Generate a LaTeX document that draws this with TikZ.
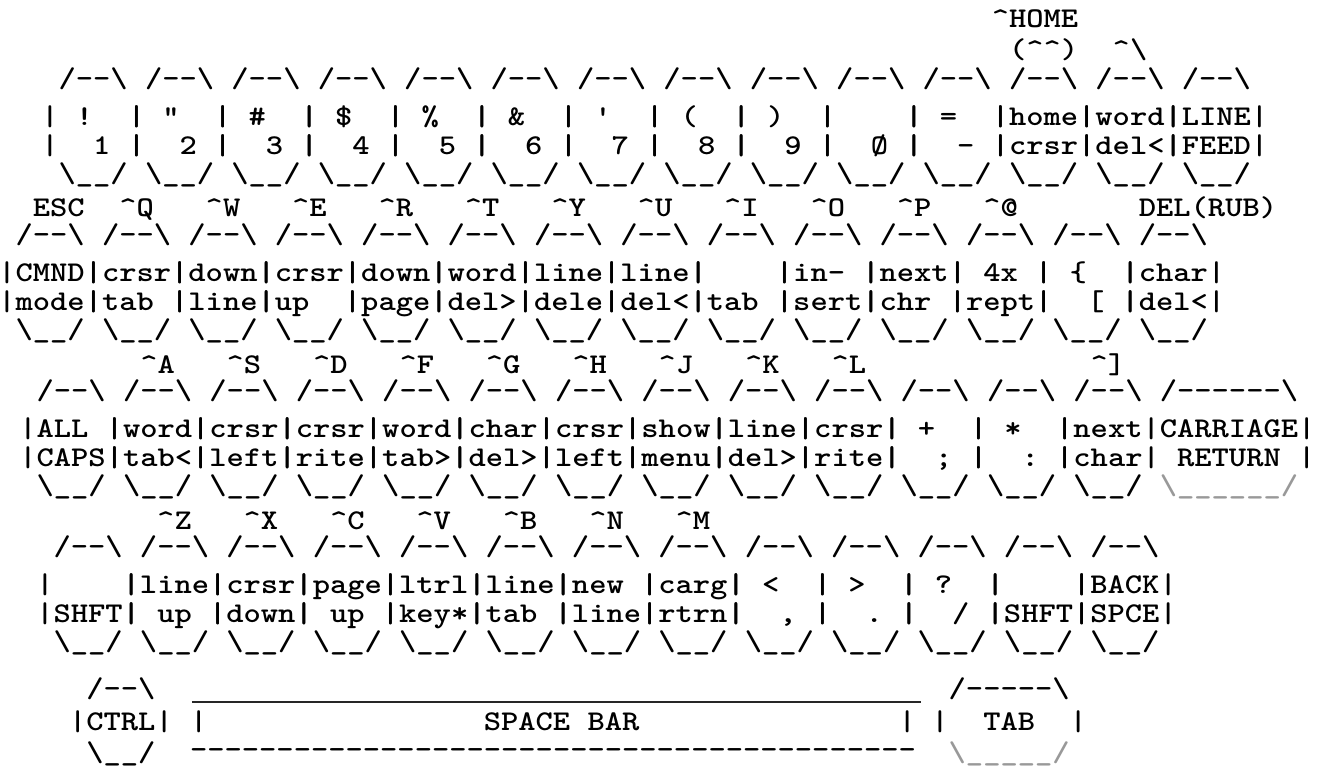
\documentclass[tikz,border=0pt]{standalone}
\usepackage{graphicx}
\newcommand\kbfnt{\fontsize{14.3}{15}\selectfont\ttfamily\bfseries}
\newcommand\kt[1]{\scalebox{1.151}[1]{\kbfnt #1}}
\newcommand\up{\textasciicircum}
\newcommand\bs{\textbackslash}
\newcommand\ktop{/-{}-\bs}
\newcommand\kbot{\bs\_\_/}
\tikzset{
  glyph/.style={anchor=base west, inner sep=0pt, outer sep=0pt},
  faint/.style={glyph, text=black!40}
}
% one key: name, column of left bar, baseline of first text line, two text lines
\newcommand\keycap[5]{%
  \node[glyph] (#1-top) at ({#2+1},{#3-38}) {\kt{\ktop}};
  \node[glyph] (#1-la) at ({#2},{#3}) {\kt{\textbar}};
  \node[glyph] (#1-lb) at ({#2},{#3+29}) {\kt{\textbar}};
  \node[glyph] (#1-ra) at ({#2+5},{#3}) {\kt{\textbar}};
  \node[glyph] (#1-rb) at ({#2+5},{#3+29}) {\kt{\textbar}};
  \node[glyph] (#1-a) at ({#2+1},{#3}) {\kt{#4}};
  \node[glyph] (#1-b) at ({#2+1},{#3+29}) {\kt{#5}};
  \node[glyph] (#1-bot) at ({#2+1},{#3+57}) {\kt{\kbot}};
}
\begin{document}
\begin{tikzpicture}[x=8.64pt, y=-0.5pt]
\useasboundingbox (0,0) rectangle (76.794,782);

% number row
\node[glyph] (homelbl) at (57.393,27) {\kt{\up HOME}};
\node[glyph] (homealt) at (58.393,58) {\kt{(\up\up)}};
\node[glyph] (wordlbl) at (64.393,58) {\kt{\up\bs}};
\foreach \ta/\tb [count=\k from 0] in {{~!}/{~~1}, {~\textquotedbl}/{~~2},
    {~\#}/{~~3}, {~\$}/{~~4}, {~\%}/{~~5}, {~\&}/{~~6}, {~\textquotesingle}/{~~7},
    {~(}/{~~8}, {~)}/{~~9}, {}/{~~\O}, {~=}/{~~-}, {home}/{crsr},
    {word}/{del<}, {LINE}/{FEED}}
  \keycap{num\k}{2.393+5*\k}{125.5}{\ta}{\tb};

% QWERTY row
\node[glyph] (esclbl) at (1.905,216.5) {\kt{ESC}};
\foreach \c [count=\k] in {Q,W,E,R,T,Y,U,I,O,P,@}
  \node[glyph] (top\k) at ({-0.095+5*\k+2},216.5) {\kt{\up\c}};
\node[glyph] (dellbl) at (65.905,216.5) {\kt{DEL(RUB)}};
\foreach \ta/\tb [count=\k from 0] in {{CMND}/{mode}, {crsr}/{tab}, {down}/{line},
    {crsr}/{up}, {down}/{page}, {word}/{del>}, {line}/{dele}, {line}/{del<},
    {}/{tab}, {in-}/{sert}, {next}/{chr}, {~4x}/{rept}, {~\{}/{~~[}, {char}/{del<}}
  \keycap{qw\k}{-0.095+5*\k}{281.5}{\ta}{\tb};

% home row
\foreach \c [count=\k] in {A,S,D,F,G,H,J,K,L}
  \node[glyph] (mid\k) at ({1.12+5*\k+2},373.5) {\kt{\up\c}};
\node[glyph] (mid12) at (63.12,373.5) {\kt{\up]}};
\foreach \ta/\tb [count=\k from 0] in {{ALL}/{CAPS}, {word}/{tab<}, {crsr}/{left},
    {crsr}/{rite}, {word}/{tab>}, {char}/{del>}, {crsr}/{left}, {show}/{menu},
    {line}/{del>}, {crsr}/{rite}, {~+}/{~~;}, {~*}/{~~:}, {next}/{char}}
  \keycap{as\k}{1.12+5*\k}{437.5}{\ta}{\tb};
\node[glyph] (cr-top) at (67.12,399.5) {\kt{/-{}-{}-{}-{}-{}-\bs}};
\node[glyph] (cr-a) at (67.12,437.5) {\kt{CARRIAGE}};
\node[glyph] (cr-b) at (67.12,466.5) {\kt{~RETURN}};
\node[glyph] (cr-ra) at (75.12,437.5) {\kt{\textbar}};
\node[glyph] (cr-rb) at (75.12,466.5) {\kt{\textbar}};
\node[faint] (cr-bot) at (67.12,494.5) {\kt{\bs\_\_\_\_\_\_/}};

% bottom row
\foreach \c [count=\k] in {Z,X,C,V,B,N,M}
  \node[glyph] (low\k) at ({2.10+5*\k+2},529.5) {\kt{\up\c}};
\foreach \ta/\tb [count=\k from 0] in {{}/{SHFT}, {line}/{~up}, {crsr}/{down},
    {page}/{~up}, {ltrl}/{key*}, {line}/{tab}, {new}/{line}, {carg}/{rtrn},
    {~<}/{~~,}, {~>}/{~~.}, {~?}/{~~/}, {}/{SHFT}, {BACK}/{SPCE}}
  \keycap{zx\k}{2.10+5*\k}{593.5}{\ta}{\tb};

% CTRL, space bar, TAB
\node[glyph] (ctrl-top) at (5,697) {\kt{\ktop}};
\node[glyph] (ctrl-l) at (4,730.5) {\kt{\textbar}};
\node[glyph] (ctrl-a) at (5,730.5) {\kt{CTRL}};
\node[glyph] (ctrl-r) at (9,730.5) {\kt{\textbar}};
\node[glyph] (ctrl-bot) at (5,761) {\kt{\kbot}};
\coordinate (sp-nw) at (11.11,702);
\coordinate (sp-ne) at (53.3,702);
\draw[line width=1.2pt, black!85] (sp-nw) -- (sp-ne);
\node[glyph] (sp-l) at (11,730.5) {\kt{\textbar}};
\node[glyph] (sp-a) at (28,730.5) {\kt{SPACE~BAR}};
\node[glyph] (sp-r) at (52,730.5) {\kt{\textbar}};
\node[glyph] (sp-bot) at (11,758) {\kt{-{}-{}-{}-{}-{}-{}-{}-{}-{}-{}-{}-{}-{}-{}-{}-{}-{}-{}-{}-{}-{}-{}-{}-{}-{}-{}-{}-{}-{}-{}-{}-{}-{}-{}-{}-{}-{}-{}-{}-{}-{}-}};
\node[glyph] (tab-top) at (54.9,697) {\kt{/-{}-{}-{}-{}-\bs}};
\node[glyph] (tab-l) at (53.9,730.5) {\kt{\textbar}};
\node[glyph] (tab-a) at (54.9,730.5) {\kt{~~TAB}};
\node[glyph] (tab-r) at (61.9,730.5) {\kt{\textbar}};
\node[faint] (tab-bot) at (54.9,761) {\kt{\bs\_\_\_\_\_/}};
\end{tikzpicture}
\end{document}
